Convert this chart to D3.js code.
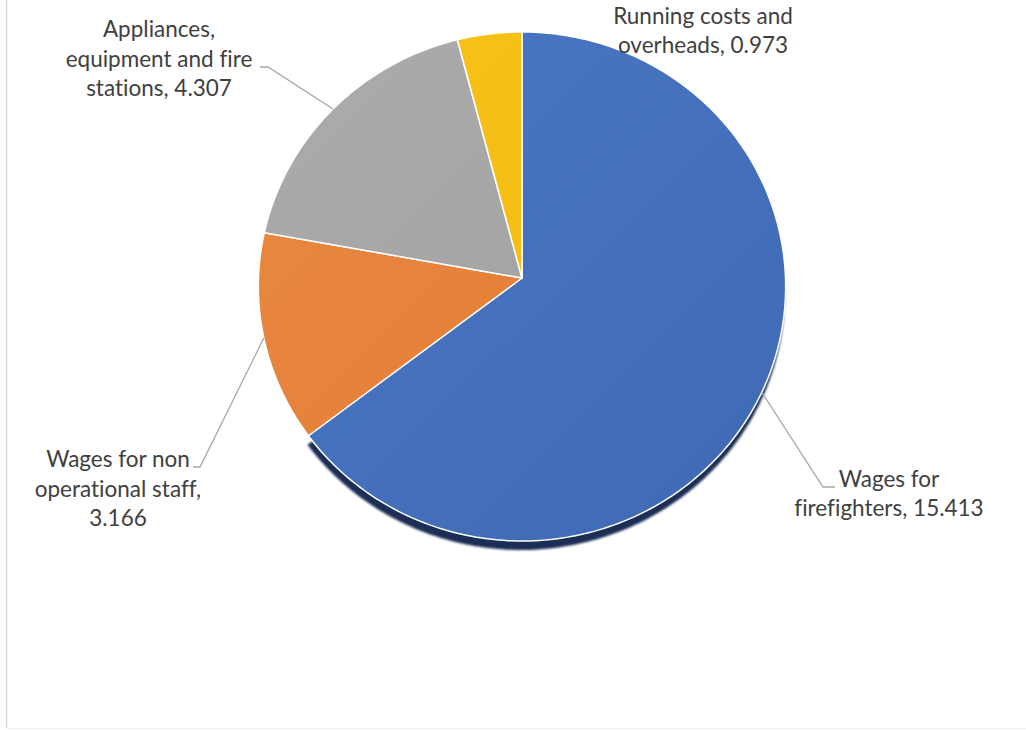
<!DOCTYPE html>
<html>
<head>
<meta charset="utf-8">
<script src="https://cdn.jsdelivr.net/npm/d3@7"></script>
<style>
  html, body { margin: 0; padding: 0; background: #fff; }
  svg { display: block; }
  .lbl { font-family: Lato, "Open Sans", sans-serif; font-size: 22.5px; fill: #404040; font-variant-ligatures: none; }
</style>
</head>
<body>
<div id="chart"></div>
<script>
// fire service spending, by category
const categories = ["Wages for firefighters", "Wages for non operational staff", "Appliances, equipment and fire stations", "Running costs and overheads"]
const values = [15.413, 3.166, 4.307, 0.973]
const labelLines = [
    ["Wages for", "firefighters, 15.413"],
    ["Wages for non", "operational staff,", "3.166"],
    ["Appliances,", "equipment and fire", "stations, 4.307"],
    ["Running costs and", "overheads, 0.973"]
]
const colors = [["#4a78c6", "#3f69b4"], ["#ea8a42", "#e27832"], ["#acacac", "#9e9e9e"], ["#f8c21a", "#f2b90b"]]

const width = 1026, height = 730
const cx = 522, cy = 278, R = 263.5
// pie is tilted back a little, so the far (top) side is squashed
const tilt = 0.0334, squash = 0.9648

// label layout: text centre x, first baseline, line step, leader start (text side)
const labelPos = [
    { x: 889, y: 487, step: 28.5, leader: [[835, 487], [823, 487]] },
    { x: 118, y: 467, step: 29.5, leader: [[193, 467], [200, 467]] },
    { x: 159, y: 37, step: 29.5, leader: [[260, 67], [268, 67]] },
    { x: 703, y: 24, step: 28.5, leader: null }
]

const proj = (a, r = 1) => {
    const u = Math.sin(a) * r, v = -Math.cos(a) * r
    const d = 1 - v * tilt
    return [cx + R * u / d, cy + R * v * squash / d]
}

const svg = d3.select('#chart')
    .append('svg')
    .attr('width', width)
    .attr('height', height)

// frame lines at left and bottom
svg.append('line').attr('x1', 6.5).attr('x2', 6.5).attr('y1', 0).attr('y2', 728.5)
    .attr('stroke', '#d9d9d9').attr('stroke-width', 1.5)
svg.append('line').attr('x1', 6).attr('x2', width).attr('y1', 728.5).attr('y2', 728.5)
    .attr('stroke', '#efefef').attr('stroke-width', 1)

const defs = svg.append('defs')
colors.forEach((c, i) => {
    const g = defs.append('linearGradient')
        .attr('id', `grad${i}`)
        .attr('gradientUnits', 'userSpaceOnUse')
        .attr('x1', cx - R).attr('y1', cy - R)
        .attr('x2', cx + R).attr('y2', cy + R)
    g.append('stop').attr('offset', '0%').attr('stop-color', c[0])
    g.append('stop').attr('offset', '100%').attr('stop-color', c[1])
})
defs.append('filter').attr('id', 'blur')
    .append('feGaussianBlur').attr('stdDeviation', 1)

const pie = d3.pie().sort(null).value(d => d)
const arcs = pie(values)

const line = d3.line()
const slicePath = (d, dx = 0, dy = 0) => {
    const n = Math.max(8, Math.ceil((d.endAngle - d.startAngle) * 60))
    const pts = [[cx, cy]].concat(d3.range(n + 1).map(i => proj(d.startAngle + (d.endAngle - d.startAngle) * i / n)))
    return line(pts.map(p => [p[0] + dx, p[1] + dy])) + 'Z'
}

// shadow under the big slice
svg.append('path')
    .attr('d', slicePath(arcs[0], -1, 9))
    .attr('fill', '#1c2f57')
    .attr('filter', 'url(#blur)')

svg.append('g')
    .selectAll('path')
    .data(arcs)
    .join('path')
    .attr('d', d => slicePath(d))
    .attr('fill', (d, i) => `url(#grad${i})`)
    .attr('stroke', '#fff')
    .attr('stroke-width', 1.5)
    .attr('stroke-linejoin', 'round')

// leader lines
svg.append('g')
    .selectAll('path')
    .data(arcs.filter((d, i) => labelPos[i].leader))
    .join('path')
    .attr('d', d => line(labelPos[d.index].leader.concat([proj((d.startAngle + d.endAngle) / 2)])))
    .attr('fill', 'none')
    .attr('stroke', '#a6a6a6')
    .attr('stroke-width', 1.3)

// data labels
const labels = svg.append('g')
    .selectAll('text')
    .data(arcs)
    .join('text')
    .attr('class', 'lbl')
    .attr('text-anchor', 'middle')
    .attr('x', d => labelPos[d.index].x)
    .attr('y', d => labelPos[d.index].y)

labels.selectAll('tspan')
    .data(d => labelLines[d.index].map(t => ({ t, i: d.index })))
    .join('tspan')
    .attr('x', d => labelPos[d.i].x)
    .attr('dy', (d, j) => j === 0 ? 0 : labelPos[d.i].step)
    .text(d => d.t)
</script>
</body>
</html>
